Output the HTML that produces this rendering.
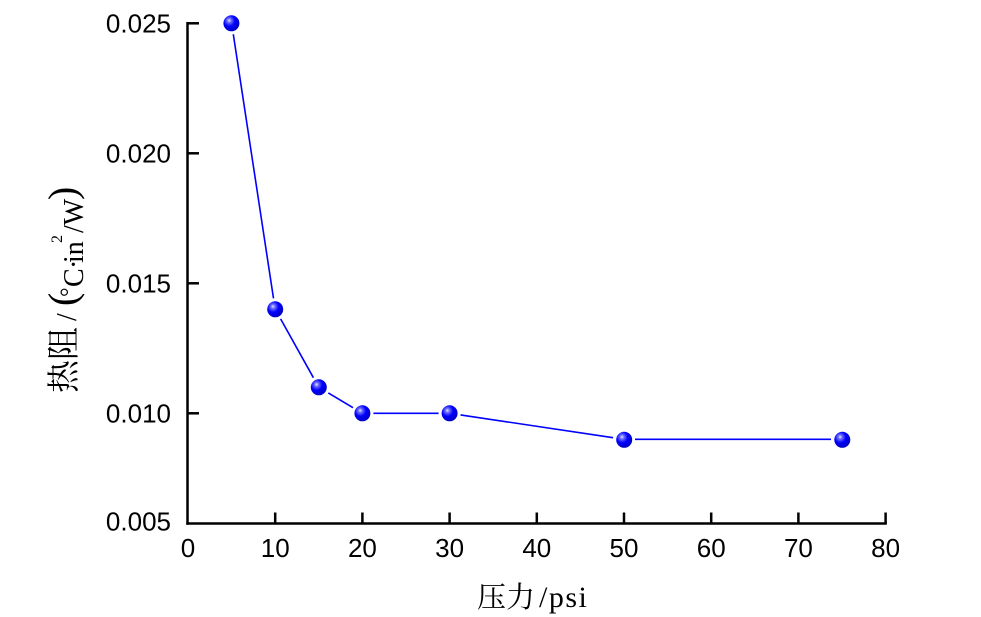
<!DOCTYPE html>
<html>
<head>
<meta charset="utf-8">
<style>
  html, body { margin:0; padding:0; background:#ffffff; }
  svg { display:block; }
  .tick { font-family:"Liberation Sans", Arial, sans-serif; font-size:26px; fill:#000; }
  .ser { font-family:"Liberation Serif", "Noto Serif CJK SC", serif; fill:#000; }
  .cjk { font-family:"Noto Serif CJK SC", "Liberation Serif", serif; fill:#000; }
</style>
</head>
<body>
<svg width="981" height="617" viewBox="0 0 981 617" xmlns="http://www.w3.org/2000/svg">
  <defs>
    <radialGradient id="ball" cx="0.38" cy="0.36" r="0.7" fx="0.36" fy="0.32">
      <stop offset="0" stop-color="#e8e8ff"/>
      <stop offset="0.18" stop-color="#7070ff"/>
      <stop offset="0.5" stop-color="#0000ff"/>
      <stop offset="1" stop-color="#0000b8"/>
    </radialGradient>
  </defs>
  <rect width="981" height="617" fill="#ffffff"/>

  <!-- axes -->
  <g stroke="#000" stroke-width="2.5" fill="none">
    <line x1="187.5" y1="22" x2="187.5" y2="524.7"/>
    <line x1="186.3" y1="523.5" x2="886.8" y2="523.5"/>
    <!-- y ticks -->
    <line x1="187.5" y1="23.3" x2="199" y2="23.3"/>
    <line x1="187.5" y1="153.3" x2="199" y2="153.3"/>
    <line x1="187.5" y1="283.3" x2="199" y2="283.3"/>
    <line x1="187.5" y1="413.3" x2="199" y2="413.3"/>
    <!-- x ticks -->
    <line x1="275.2" y1="523.5" x2="275.2" y2="512.5"/>
    <line x1="362.4" y1="523.5" x2="362.4" y2="512.5"/>
    <line x1="449.6" y1="523.5" x2="449.6" y2="512.5"/>
    <line x1="536.8" y1="523.5" x2="536.8" y2="512.5"/>
    <line x1="624" y1="523.5" x2="624" y2="512.5"/>
    <line x1="711.2" y1="523.5" x2="711.2" y2="512.5"/>
    <line x1="798.4" y1="523.5" x2="798.4" y2="512.5"/>
    <line x1="885.6" y1="523.5" x2="885.6" y2="512.5"/>
  </g>

  <!-- y tick labels -->
  <g class="tick" text-anchor="end">
    <text x="171" y="32.6">0.025</text>
    <text x="171" y="162.6">0.020</text>
    <text x="171" y="292.6">0.015</text>
    <text x="171" y="422.6">0.010</text>
    <text x="171" y="530.5">0.005</text>
  </g>

  <!-- x tick labels -->
  <g class="tick" text-anchor="middle">
    <text x="188" y="557">0</text>
    <text x="275.2" y="557">10</text>
    <text x="362.4" y="557">20</text>
    <text x="449.6" y="557">30</text>
    <text x="536.8" y="557">40</text>
    <text x="624" y="557">50</text>
    <text x="711.2" y="557">60</text>
    <text x="798.4" y="557">70</text>
    <text x="885.6" y="557">80</text>
  </g>

  <!-- data line segments (with small gaps at markers) -->
  <g stroke="#0000ff" stroke-width="1.6" fill="none">
    <line x1="233.3" y1="34.2" x2="273.5" y2="298.4"/>
    <line x1="280.6" y1="318.9" x2="313.4" y2="377.7"/>
    <line x1="328.3" y1="392.9" x2="353" y2="407.7"/>
    <line x1="373.4" y1="413.3" x2="438.6" y2="413.3"/>
    <line x1="460.5" y1="414.9" x2="613.1" y2="437.7"/>
    <line x1="635" y1="439.3" x2="831" y2="439.3"/>
  </g>

  <!-- markers -->
  <g fill="url(#ball)">
    <circle cx="231.4" cy="23.3" r="8"/>
    <circle cx="275.2" cy="309.3" r="8"/>
    <circle cx="318.8" cy="387.3" r="8"/>
    <circle cx="362.4" cy="413.3" r="8"/>
    <circle cx="449.6" cy="413.3" r="8"/>
    <circle cx="624.2" cy="439.8" r="8"/>
    <circle cx="842.3" cy="439.8" r="8"/>
  </g>

  <!-- x axis title -->
  <text class="cjk" x="477" y="607" font-size="29">压力</text>
  <text class="ser" x="539" y="607" font-size="30" letter-spacing="1.5">/psi</text>

  <!-- y axis title: local y == page x, local x == 392 - page y -->
  <g transform="translate(0,392) rotate(-90)">
    <text class="cjk" x="-1" y="75" font-size="33">热阻</text>
    <text class="ser" x="71" y="76" font-size="28">/</text>
    <text class="ser" x="86" y="76" font-size="40">(</text>
    <text class="ser" x="95" y="77" font-size="24">°</text>
    <text class="ser" x="105" y="83" font-size="28">C</text>
    <text class="ser" x="123" y="83" font-size="28">·</text>
    <text class="ser" x="129" y="83" font-size="28">in</text>
    <text class="ser" x="149" y="62" font-size="16">2</text>
    <text class="ser" x="159" y="83" font-size="28">/W</text>
    <text class="ser" x="192" y="76" font-size="40">)</text>
  </g>
</svg>
</body>
</html>
